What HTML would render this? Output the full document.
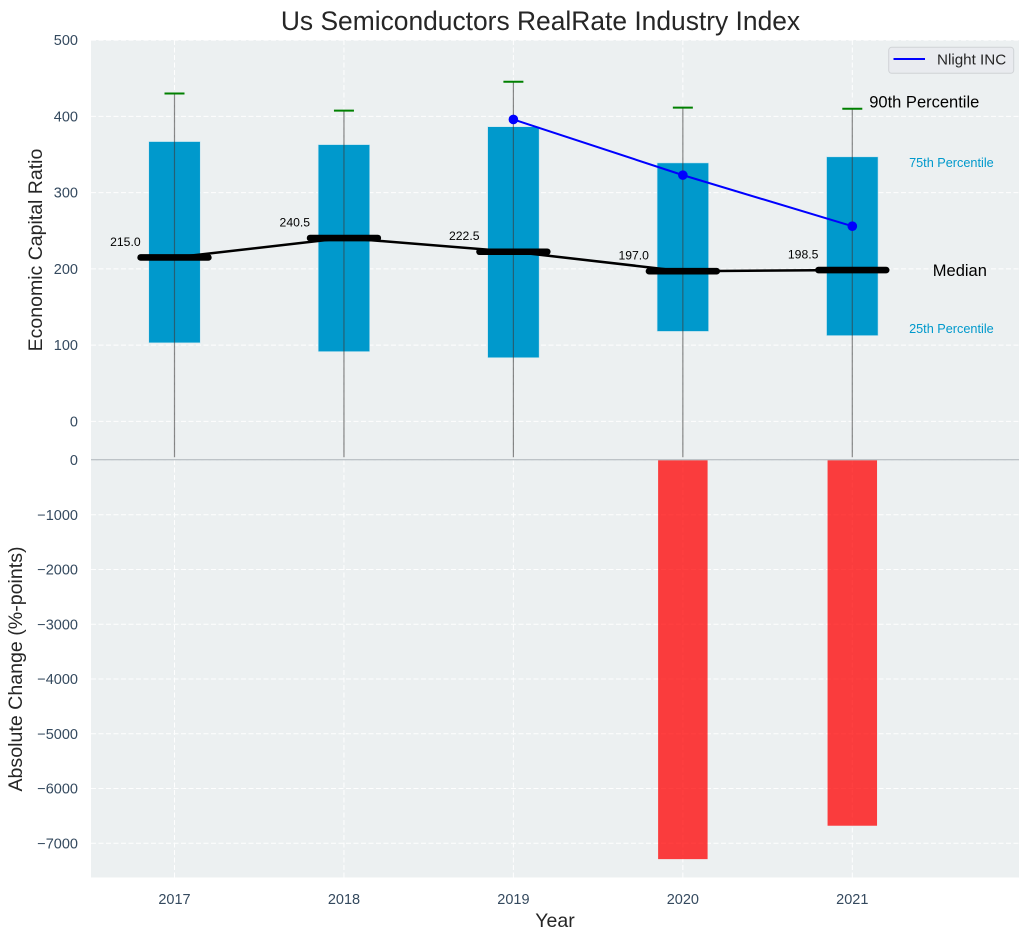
<!DOCTYPE html>
<html>
<head>
<meta charset="utf-8">
<title>Us Semiconductors RealRate Industry Index</title>
<style>
html,body{margin:0;padding:0;background:#fff;width:1029px;height:940px;overflow:hidden}
svg{display:block;font-family:"Liberation Sans",Arial,sans-serif}
</style>
</head>
<body>
<svg id="chart" xmlns="http://www.w3.org/2000/svg" width="1029" height="940" viewBox="0 0 1029 940">
  <rect x="0" y="0" width="1029" height="940" fill="#ffffff"/>
  <rect x="91" y="40" width="928" height="419.5" fill="#ecf0f1"/>
  <rect x="91" y="459.5" width="928" height="418" fill="#ecf0f1"/>
  <g id="grid"></g>
  <g id="marks"></g>
  <g id="ticks"></g>
  <line x1="91" y1="459.7" x2="1019" y2="459.7" stroke="#bdc3c7" stroke-width="1.3"/>
  <text x="540.5" y="30" text-anchor="middle" font-size="26.4" fill="#262626">Us Semiconductors RealRate Industry Index</text>
  <text transform="translate(42,250) rotate(-90)" text-anchor="middle" font-size="19.5" fill="#262626">Economic Capital Ratio</text>
  <text transform="translate(22,669) rotate(-90)" text-anchor="middle" font-size="19.6" fill="#262626">Absolute Change (%-points)</text>
  <text x="555" y="927" text-anchor="middle" font-size="19.5" fill="#262626">Year</text>
  <g>
    <rect x="888.7" y="47.3" width="125" height="26" rx="3" fill="#e9ebef" stroke="#d0d3d6" stroke-width="1"/>
    <line x1="893.5" y1="59" x2="925" y2="59" stroke="#0000ff" stroke-width="2"/>
    <text x="937" y="64.5" font-size="15.2" fill="#262626">Nlight INC</text>
  </g>
</svg>
<script>
const years = [2017, 2018, 2019, 2020, 2021];
const p90 = [430, 407.5, 445.5, 411.5, 410];
const p75 = [367, 363, 386.5, 339, 347];
const median = [215, 240.5, 222.5, 197, 198.5];
const p25 = [103, 91.5, 83.5, 118, 112.5];
const whiskerLow = [-47, -47, -47, -47, -47];
const nlight = [null, null, 396, 323, 256];
const absChange = [0, 0, 0, -7290, -6680];
const upperTicks = [0, 100, 200, 300, 400, 500];
const lowerTicks = [0, -1000, -2000, -3000, -4000, -5000, -6000, -7000];

const xS = v => 174.5 + (v - 2017) * 169.45;
const yU = v => 421.4 - v * 0.7625;
const yL = v => 460 + (-v) * 0.05475;

const NS = 'http://www.w3.org/2000/svg';
const grid = document.getElementById('grid');
const marks = document.getElementById('marks');
const ticks = document.getElementById('ticks');
function mk(parent, tag, attrs, text) {
  const el = document.createElementNS(NS, tag);
  for (const k in attrs) el.setAttribute(k, attrs[k]);
  if (text !== undefined) el.textContent = text;
  parent.appendChild(el);
  return el;
}
const gridStyle = {stroke: '#ffffff', 'stroke-width': 1, 'stroke-dasharray': '5 2.5', opacity: 0.95};

upperTicks.forEach(t => {
  const g = mk(grid, 'line', Object.assign({x1: 91, x2: 1019, y1: yU(t), y2: yU(t)}, gridStyle));
  
  
  const l = mk(ticks, 'text', {x: 78, y: yU(t) + 5, 'text-anchor': 'end', 'font-size': 14.5, fill: '#34495e'}, String(t));
  
  
});
lowerTicks.forEach(t => {
  const g = mk(grid, 'line', Object.assign({x1: 91, x2: 1019, y1: yL(t), y2: yL(t)}, gridStyle));
  
  
  const l = mk(ticks, 'text', {x: 78, y: yL(t) + 5, 'text-anchor': 'end', 'font-size': 14.5, fill: '#34495e'}, String(t).replace('-', '\u2212'));
  
  
});
years.forEach(y => {
  const g = mk(grid, 'line', Object.assign({x1: xS(y), x2: xS(y), y1: 40, y2: 877.5}, gridStyle));
  
  
  const l = mk(ticks, 'text', {x: xS(y), y: 904, 'text-anchor': 'middle', 'font-size': 14.5, fill: '#34495e'}, String(y));
  
  
});

const halfBar = 0.152;
years.forEach((y, i) => {
  const b = mk(marks, 'rect', {x: xS(y - halfBar) , y: yU(p75[i]), width: xS(y + halfBar) - xS(y - halfBar), height: yU(p25[i]) - yU(p75[i]), fill: '#0099cc', stroke: '#c9e6f0', 'stroke-width': 0.6});
  
  
  const w = mk(marks, 'line', {x1: xS(y), x2: xS(y), y1: yU(p90[i]), y2: yU(whiskerLow[i]), stroke: '#3a3a3a', 'stroke-opacity': 0.6, 'stroke-width': 1.2});
  
  
  const c = mk(marks, 'line', {x1: xS(y) - 10, x2: xS(y) + 10, y1: yU(p90[i]), y2: yU(p90[i]), stroke: '#008000', 'stroke-width': 2});
  
  
  if (absChange[i] !== 0) {
    const r = mk(marks, 'rect', {x: xS(y - 0.146), y: yL(0), width: xS(y + 0.146) - xS(y - 0.146), height: yL(absChange[i]) - yL(0), fill: '#ff0000', 'fill-opacity': 0.75});
    
    
  }
});

const medianLine = mk(marks, 'polyline', {points: years.map((y, i) => xS(y) + ',' + yU(median[i])).join(' '), fill: 'none', stroke: '#000000', 'stroke-width': 2.5});



years.forEach((y, i) => {
  const m = mk(marks, 'line', {x1: xS(y - 0.2), x2: xS(y + 0.2), y1: yU(median[i]), y2: yU(median[i]), stroke: '#000000', 'stroke-width': 6.6, 'stroke-linecap': 'round'});
  
  
  const t = mk(marks, 'text', {x: xS(y - 0.2), y: yU(median[i]) - 11.5, 'text-anchor': 'end', 'font-size': 12.2, fill: '#000000'}, median[i].toFixed(1));
  
  
});

const nlightPts = years.map((y, i) => nlight[i] === null ? null : [xS(y), yU(nlight[i])]).filter(Boolean);
const nl = mk(marks, 'polyline', {points: nlightPts.map(p => p.join(',')).join(' '), fill: 'none', stroke: '#0000ff', 'stroke-width': 2});


nlightPts.forEach(p => {
  const d = mk(marks, 'circle', {cx: p[0], cy: p[1], r: 4.8, fill: '#0000ff'});
  
  
});

const last = years.length - 1;
const a90 = mk(marks, 'text', {x: xS(2021.1), y: yU(p90[last] + 9) + 5.6, 'font-size': 16.5, fill: '#000000'}, '90th Percentile');


const a75 = mk(marks, 'text', {x: xS(2021.335), y: yU(p75[last] - 8) + 4.3, 'font-size': 12.7, fill: '#0099cc'}, '75th Percentile');


const aMed = mk(marks, 'text', {x: xS(2021.475), y: yU(median[last]) + 6, 'font-size': 16.5, fill: '#000000'}, 'Median');


const a25 = mk(marks, 'text', {x: xS(2021.335), y: yU(p25[last] + 9) + 4.3, 'font-size': 12.7, fill: '#0099cc'}, '25th Percentile');


</script>
</body>
</html>
